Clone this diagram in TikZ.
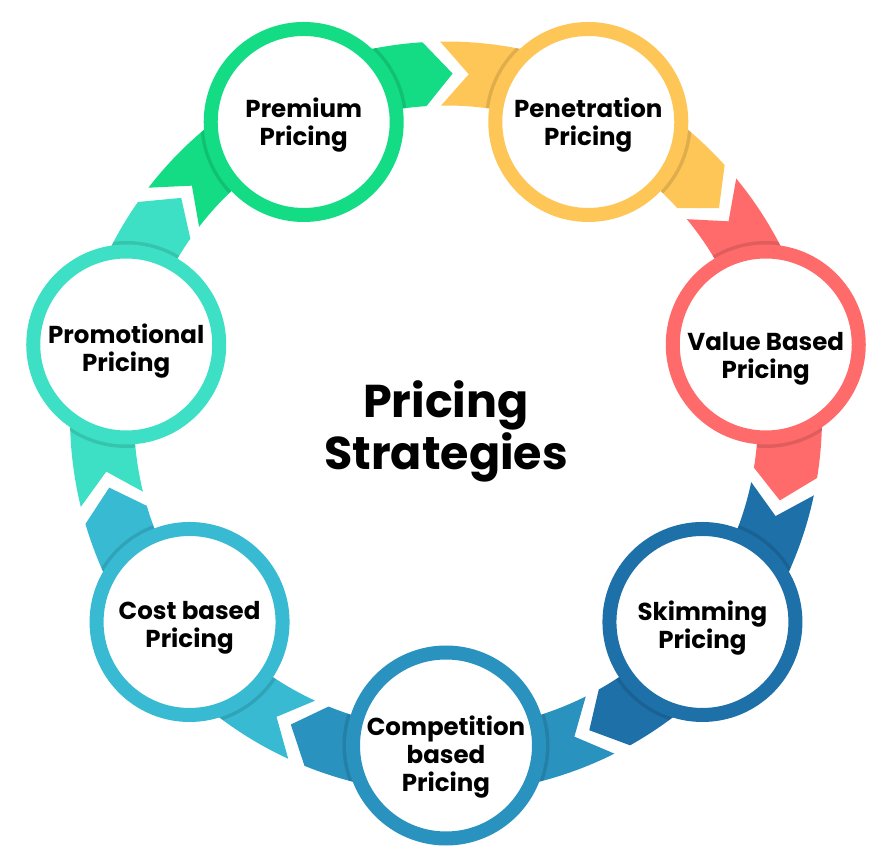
\documentclass[tikz,border=0pt]{standalone}
\usepackage{fontspec}
\setmainfont{Poppins}
\usetikzlibrary{positioning}
\definecolor{premiumc}{RGB}{19,220,133}
\definecolor{penetrationc}{RGB}{254,198,86}
\definecolor{valuec}{RGB}{255,107,107}
\definecolor{skimmingc}{RGB}{30,112,169}
\definecolor{competitionc}{RGB}{42,146,191}
\definecolor{costc}{RGB}{56,186,211}
\definecolor{promotionalc}{RGB}{62,224,197}
\tikzset{
  bubble/.style={circle, draw=#1, line width=14pt, fill=white, minimum size=186pt, inner sep=0pt},
  lbl/.style={font=\bfseries\fontsize{24.5}{28}\selectfont, align=center, text=black},
  title/.style={font=\bfseries\fontsize{46}{52}\selectfont, align=center, text=black}
}

\begin{document}
\begin{tikzpicture}[x=1pt,y=1pt]
\path[use as bounding box] (0,0) rectangle (892,852);
\coordinate (c) at (446,434.5);

\begin{scope}[shift={(c)}]
  % ring pieces with notched tail and pointed head (clockwise)
  \foreach \a/\col in {115.71/premiumc, 64.29/penetrationc, 12.86/valuec, -38.57/skimmingc,
                       -90/competitionc, -141.43/costc, 167.14/promotionalc} {
    \pgfmathsetmacro{\s}{\a+25.714}
    \pgfmathsetmacro{\e}{\a-25.714}
    \fill[\col] (\s+0.9:376) arc[start angle=\s+0.9, end angle=\e+3.6, radius=376]
      -- (\e-1.1:344) -- (\e+3.6:312)
      arc[start angle=\e+3.6, end angle=\s+0.9, radius=312]
      -- (\s-3.8:344) -- cycle;
  }
  % soft shadow of the bubbles on the ring
  \begin{scope}[even odd rule]
    \clip (0,0) circle[radius=376] (0,0) circle[radius=312];
    \foreach \a in {115.71,64.29,12.86,-38.57,-90,-141.43,167.14}
      \fill[black, opacity=0.12] (\a:328) circle[radius=103.5];
  \end{scope}

  % bubbles
  \node[bubble=premiumc] (premium) at (115.71:328) {};
  \node[bubble=penetrationc] (penetration) at (64.29:328) {};
  \node[bubble=valuec] (value) at (12.86:328) {};
  \node[bubble=skimmingc] (skimming) at (-38.57:328) {};
  \node[bubble=competitionc] (competition) at (-90:328) {};
  \node[bubble=costc] (cost) at (-141.43:328) {};
  \node[bubble=promotionalc] (promotional) at (167.14:328) {};
\end{scope}

% labels
\node[lbl] (premium-t) at ([yshift=-3]premium) {Premium\\Pricing};
\node[lbl] (penetration-t) at ([yshift=-3]penetration) {Penetration\\Pricing};
\node[lbl] (value-t) at ([yshift=-14]value) {Value Based\\Pricing};
\node[lbl] (skimming-t) at ([yshift=-6]skimming) {Skimming\\Pricing};
\node[lbl] (competition-t) at ([yshift=-12]competition) {Competition\\based\\Pricing};
\node[lbl] (cost-t) at ([yshift=-6]cost) {Cost based\\Pricing};
\node[lbl] (promotional-t) at ([yshift=-7]promotional) {Promotional\\Pricing};

\node[title] (title) at (446,420.5) {Pricing\\Strategies};
\end{tikzpicture}
\end{document}
